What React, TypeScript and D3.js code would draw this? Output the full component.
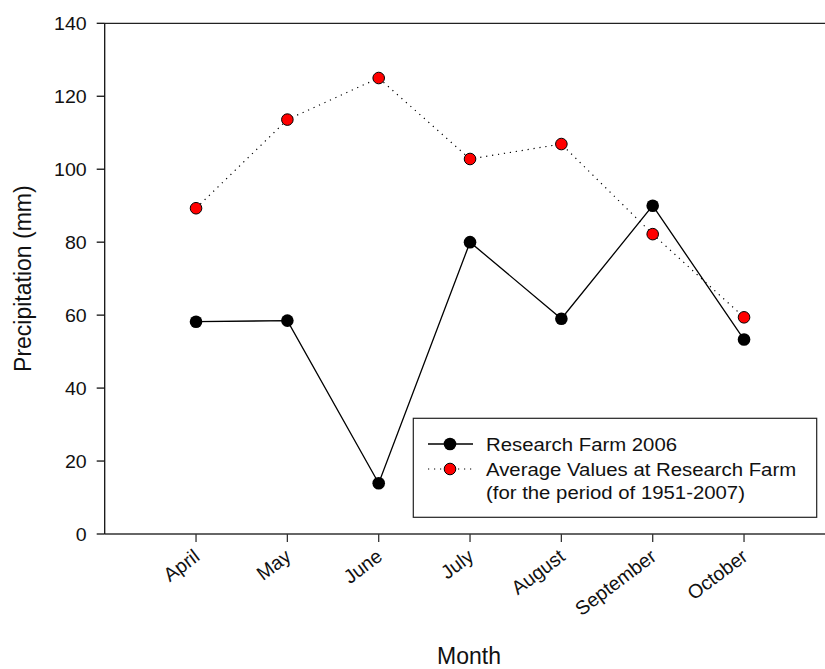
import React from "react";
import * as d3 from "d3";

const months = ["April", "May", "June", "July", "August", "September", "October"];
const farm2006 = [58.2, 58.5, 13.9, 80.0, 59.0, 90.0, 53.3];
const averageValues = [89.3, 113.6, 125.0, 102.8, 106.9, 82.2, 59.4];
const yTicks = [0, 20, 40, 60, 80, 100, 120, 140];
const legendLabels = ["Research Farm 2006", "Average Values at Research Farm", "(for the period of 1951-2007)"];

const W = 825, H = 669;
const x = d3.scaleLinear().domain([0, 9]).range([104.7, 926.7]);
const y = d3.scaleLinear().domain([0, 140]).range([534, 23.3]);

export default function App() {
  const line = d3.line<number>().x((_, i) => x(i + 1)).y((d) => y(d));
  const font = "Arial, 'Liberation Sans', sans-serif";
  const legendRows = [450.7, 476, 498.5];
  return (
    <svg width={W} height={H} style={{ position: "absolute", left: 0, top: 0, background: "#fff" }} fontFamily={font}>
      {/* axes */}
      <line x1={x(0)} x2={W} y1={y(140)} y2={y(140)} stroke="#222" strokeWidth={1.3} />
      <line x1={x(0)} x2={W} y1={y(0)} y2={y(0)} stroke="#333" strokeWidth={1.3} />
      <line x1={x(0)} x2={x(0)} y1={y(0)} y2={y(140)} stroke="#111" strokeWidth={1.3} />
      {yTicks.map((t) => (
        <g key={t}>
          <line x1={x(0) - 8} x2={x(0)} y1={y(t)} y2={y(t)} stroke="#111" strokeWidth={1.3} />
          <text transform={`translate(${x(0) - 18},${y(t) + 6.5}) scale(1.1,1)`} textAnchor="end" fontSize={17.8} fill="#111">{t}</text>
        </g>
      ))}
      {months.map((m, i) => (
        <g key={m}>
          <line x1={x(i + 1)} x2={x(i + 1)} y1={y(0)} y2={y(0) + 8} stroke="#333" strokeWidth={1.3} />
          <text transform={`translate(${x(i + 1) + 5},${y(0) + 25}) rotate(-37)`} textAnchor="end" fontSize={19.5} fill="#111">{m}</text>
        </g>
      ))}
      <text transform={`translate(31,${(y(0) + y(140)) / 2}) rotate(-90)`} textAnchor="middle" fontSize={23} fill="#111">Precipitation (mm)</text>
      <text x={469} y={664} textAnchor="middle" fontSize={23} fill="#111">Month</text>

      {/* series */}
      <path d={line(averageValues) ?? ""} fill="none" stroke="#000" strokeWidth={1.2} strokeDasharray="1.2 4.8" />
      <path d={line(farm2006) ?? ""} fill="none" stroke="#000" strokeWidth={1.3} />
      {farm2006.map((v, i) => (
        <circle key={"b" + i} cx={x(i + 1)} cy={y(v)} r={6.3} fill="#000" />
      ))}
      {averageValues.map((v, i) => (
        <circle key={"r" + i} cx={x(i + 1)} cy={y(v)} r={5.8} fill="#ff0000" stroke="#000" strokeWidth={1} />
      ))}

      {/* legend */}
      <rect x={413.3} y={418.3} width={403.4} height={99} fill="#fff" stroke="#222" strokeWidth={1.2} />
      <line x1={428} x2={473} y1={444} y2={444} stroke="#000" strokeWidth={1.3} />
      <circle cx={450} cy={444} r={6.3} fill="#000" />
      <line x1={428} x2={473} y1={469} y2={469} stroke="#000" strokeWidth={1.2} strokeDasharray="1.2 4.8" />
      <circle cx={450} cy={469} r={5.8} fill="#ff0000" stroke="#000" strokeWidth={1} />
      {legendLabels.map((l, i) => (
        <text key={l} transform={`translate(486,${legendRows[i]}) scale(1.1,1)`} fontSize={18.5} fill="#111">{l}</text>
      ))}
    </svg>
  );
}
